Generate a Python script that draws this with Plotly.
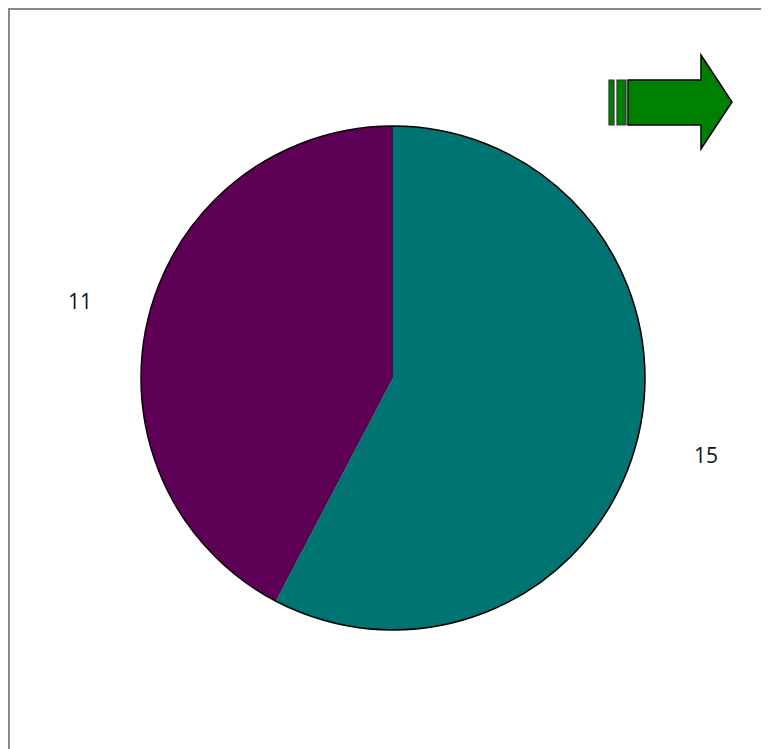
import math
import plotly.graph_objects as go

# ---- data ----
labels = ["A", "B"]
values = [15, 11]
colors = ["#007373", "#5e0055"]

W, H = 769, 749
OFF = 8  # browser body margin
CX, CY, R = 393, 378, 252  # pie layout in page pixels
LABEL_R = 322


def px(x):
    return (x - OFF) / W


def py(y):
    return 1 - (y - OFF) / H


fig = go.Figure()
fig.add_trace(go.Pie(
    labels=labels,
    values=values,
    sort=False,
    direction="clockwise",
    rotation=0,
    marker=dict(colors=colors, line=dict(width=0)),
    textinfo="none",
    hoverinfo="label+value",
    showlegend=False,
    domain=dict(x=[px(CX - R), px(CX + R)], y=[py(CY + R), py(CY - R)]),
))

# value labels positioned at slice mid-angles
total = sum(values)
acc = 0
annotations = []
for v in values:
    mid = (acc + v / 2) / total * 2 * math.pi
    acc += v
    lx = CX + LABEL_R * math.sin(mid)
    ly = CY - LABEL_R * math.cos(mid)
    annotations.append(dict(
        x=px(lx), y=py(ly), xref="paper", yref="paper",
        text=str(v), showarrow=False,
        font=dict(family="Open Sans, Noto Sans, sans-serif", size=21, color="#111111"),
        xanchor="center", yanchor="middle",
    ))

shapes = []
# outer circle outline
shapes.append(dict(type="circle", xref="paper", yref="paper",
                   x0=px(CX - R), x1=px(CX + R), y0=py(CY + R), y1=py(CY - R),
                   line=dict(color="black", width=1.5), layer="above"))
# frame (top and left edges; the rest runs off the page)
shapes.append(dict(type="line", xref="paper", yref="paper",
                   x0=px(8), x1=px(W + 30), y0=py(9), y1=py(9),
                   line=dict(color="#888888", width=2)))
shapes.append(dict(type="line", xref="paper", yref="paper",
                   x0=px(9), x1=px(9), y0=py(8), y1=py(H + 30),
                   line=dict(color="#888888", width=2)))


def path(pts):
    return "M " + " L ".join(f"{px(x):.5f},{py(y):.5f}" for x, y in pts) + " Z"


# arrow icon
shapes.append(dict(type="path", xref="paper", yref="paper",
                   path=path([(609, 80), (614, 80), (614, 125), (609, 125)]),
                   fillcolor="#008000", line=dict(color="#333333", width=1.2)))
shapes.append(dict(type="path", xref="paper", yref="paper",
                   path=path([(617, 80), (626, 80), (626, 125), (617, 125)]),
                   fillcolor="#008000", line=dict(color="#333333", width=1.2)))
shapes.append(dict(type="path", xref="paper", yref="paper",
                   path=path([(628, 80), (701, 80), (701, 55), (732, 102),
                              (701, 149), (701, 125), (628, 125)]),
                   fillcolor="#008000", line=dict(color="black", width=1.5)))

fig.update_layout(
    width=W, height=H,
    margin=dict(l=0, r=0, t=0, b=0),
    paper_bgcolor="white", plot_bgcolor="white",
    shapes=shapes, annotations=annotations,
)

fig.write_html("out.html")
